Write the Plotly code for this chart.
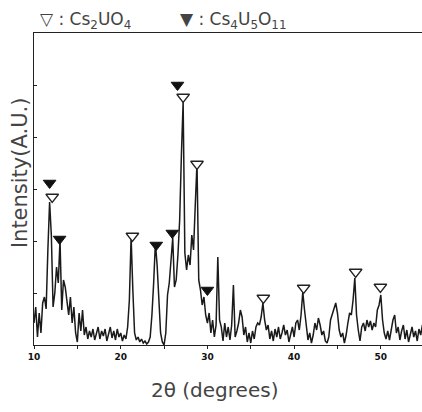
import numpy as np
import plotly.graph_objects as go

# 2-theta sampling (degrees) and measured intensity (arbitrary units)
two_theta = np.round(np.arange(10.0, 55.0001, 0.2), 1)
intensity = [
    22, 38, 8, 32, 12,        # 10
    42, 48, 36, 95, 143,      # 11
    110, 38, 52, 78, 62,      # 12
    105, 35, 65, 58, 45,      # 13
    30, 48, 22, 38, 12,       # 14
    3, 32, 14, 35, 10,        # 15
    18, 6, 14, 8, 16,         # 16
    5, 12, 18, 6, 14,         # 17
    9, 16, 4, 12, 18,         # 18
    7, 14, 5, 16, 8,          # 19
    12, 4, 10, 6, 18,         # 20
    45, 108, 55, 12, 5,       # 21
    8, 3, 6, 2, 4,            # 22
    1, 3, 8, 30, 62,          # 23
    102, 80, 40, 12, 3,       # 24
    0, 12, 50, 62, 88,        # 25
    107, 58, 65, 90, 125,     # 26
    190, 243, 92, 75, 90,     # 27
    80, 110, 95, 140, 182,    # 28
    65, 55, 40, 48, 30,       # 29
    22, 32, 12, 25, 8,        # 30
    20, 88, 25, 18, 4,        # 31
    22, 8, 18, 5, 20,         # 32
    60, 8, 14, 22, 35,        # 33
    28, 10, 18, 3, 12,        # 34
    2, 14, 6, 18, 22,         # 35
    20, 28, 42, 25, 15,       # 36
    20, 6, 14, 4, 16,         # 37
    8, 18, 6, 12, 20,         # 38
    10, 15, 3, 12, 18,        # 39
    8, 22, 25, 15, 30,        # 40
    53, 35, 18, 5, 12,        # 41
    2, 10, 22, 15, 27,        # 42
    20, 10, 14, 4, 2,         # 43
    8, 25, 30, 35, 42,        # 44
    32, 15, 8, 12, 2,         # 45
    10, 22, 32, 30, 45,       # 46
    67, 30, 15, 4, 18,        # 47
    22, 14, 25, 18, 24,       # 48
    15, 22, 18, 35, 40,       # 49
    50, 25, 12, 6, 14,        # 50
    5, 15, 25, 30, 12,        # 51
    18, 5, 14, 20, 6,         # 52
    15, 3, 12, 18, 8,         # 53
    14, 4, 16, 10, 20,        # 54
    12,                       # 55
]

# Phase markers
cs2uo4_x = [12.1, 21.35, 27.2, 28.8, 36.45, 41.1, 47.1, 49.95]
cs2uo4_y = [148, 109, 248, 181, 47, 57, 73, 58]
cs4u5o11_x = [11.8, 12.95, 24.1, 25.95, 26.55, 30.0]
cs4u5o11_y = [162, 106, 100, 112, 260, 55]

fig = go.Figure()
fig.add_trace(go.Scatter(
    x=two_theta, y=intensity, mode="lines",
    line=dict(color="#1a1a1a", width=1.5), hoverinfo="skip", showlegend=False))
fig.add_trace(go.Scatter(
    x=cs2uo4_x, y=cs2uo4_y, mode="markers",
    marker=dict(symbol="triangle-down", size=11, color="white",
                line=dict(color="#222222", width=1.3)),
    showlegend=False))
fig.add_trace(go.Scatter(
    x=cs4u5o11_x, y=cs4u5o11_y, mode="markers",
    marker=dict(symbol="triangle-down", size=11, color="#111111",
                line=dict(color="#111111", width=1)),
    showlegend=False))

font_main = "DejaVu Sans"
fig.update_layout(
    width=422, height=412,
    margin=dict(l=34, r=0, t=33, b=67),
    paper_bgcolor="white", plot_bgcolor="white",
    xaxis=dict(range=[10, 54.75], showgrid=False, zeroline=False,
               showline=True, linecolor="#222222", linewidth=1, mirror=True,
               ticks="outside", ticklen=3, tickcolor="#222222", dtick=10, tick0=10,
               minor=dict(ticks="outside", ticklen=3, dtick=5, tickcolor="#222222"),
               tickfont=dict(size=9, family="DejaVu Sans", color="#111111", weight="bold")),
    yaxis=dict(range=[0, 312], showgrid=False, zeroline=False,
               showline=True, linecolor="#222222", linewidth=1, mirror=False,
               ticks="inside", ticklen=3, tickcolor="#222222", dtick=52,
               showticklabels=False),
    annotations=[
        dict(text="▽ : Cs<sub>2</sub>UO<sub>4</sub>", xref="paper", yref="paper",
             x=0.01, y=1.04, xanchor="left", yanchor="middle", showarrow=False,
             font=dict(size=17, family=font_main, color="#444444")),
        dict(text="▼ : Cs<sub>4</sub>U<sub>5</sub>O<sub>11</sub>", xref="paper", yref="paper",
             x=0.37, y=1.04, xanchor="left", yanchor="middle", showarrow=False,
             font=dict(size=17, family=font_main, color="#444444")),
        dict(text="Intensity(A.U.)", xref="paper", yref="paper",
             x=-0.036, y=0.551, xanchor="center", yanchor="middle", textangle=-90,
             showarrow=False, font=dict(size=21, family=font_main, color="#444444")),
        dict(text="2θ (degrees)", xref="paper", yref="paper",
             x=0.464, y=-0.144, xanchor="center", yanchor="middle",
             showarrow=False, font=dict(size=20, family=font_main, color="#444444")),
    ],
)

fig.write_html("out.html", config={"displayModeBar": False},
               post_script="document.body.style.margin='0';document.body.style.overflow='hidden';")
